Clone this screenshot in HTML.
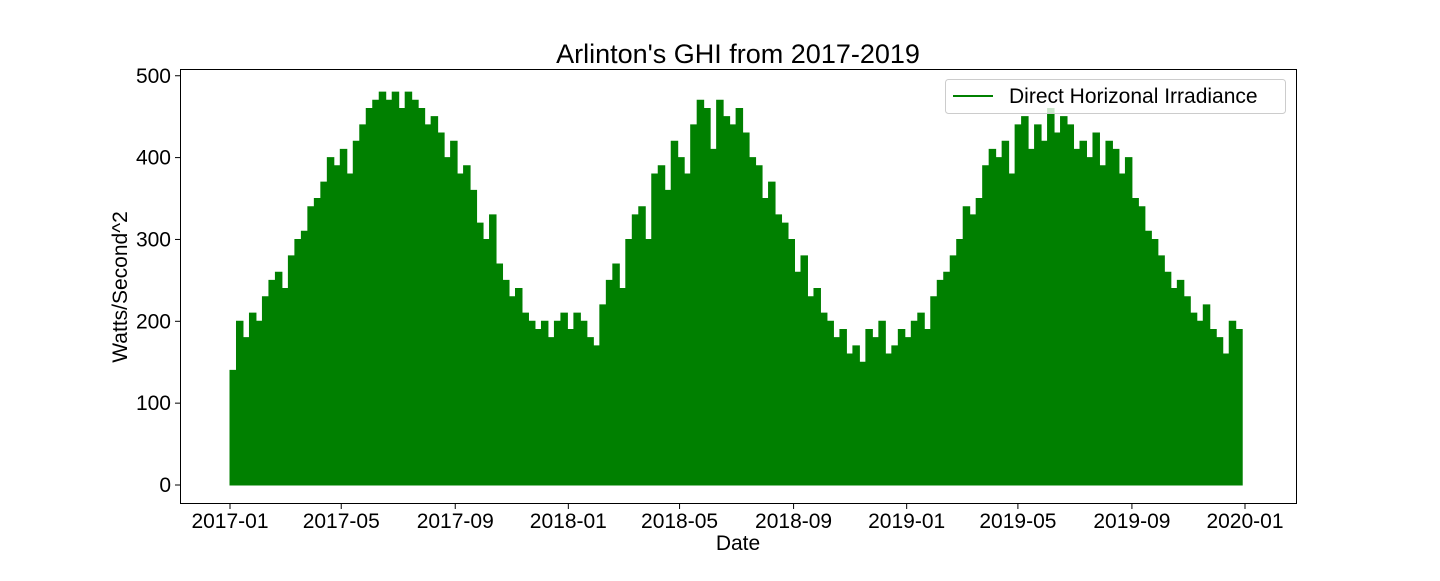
<!DOCTYPE html>
<html><head><meta charset="utf-8"><style>
body{margin:0;background:#fff;}
svg text{font-family:"Liberation Sans","DejaVu Sans",sans-serif;fill:#000;}
</style></head><body>
<svg id="chart" width="1440" height="576" xmlns="http://www.w3.org/2000/svg">
<rect x="0" y="0" width="1440" height="576" fill="#fff"/>
<text x="738" y="63" font-size="27" text-anchor="middle">Arlinton's GHI from 2017-2019</text>
<g id="marks"></g>
<rect x="180.5" y="69.5" width="1116" height="434" fill="none" stroke="#000" stroke-width="1"/>
<g id="yaxis"></g>
<g id="xaxis"></g>
<text transform="translate(127,287) rotate(-90)" font-size="21" text-anchor="middle">Watts/Second^2</text>
<text x="738" y="550" font-size="21" text-anchor="middle">Date</text>
<g>
<rect x="945.5" y="79.5" width="340" height="34" rx="3" fill="#fff" fill-opacity="0.8" stroke="#ccc"/>
<line x1="953" y1="96" x2="993" y2="96" stroke="#008000" stroke-width="2"/>
<text x="1009" y="103" font-size="21">Direct Horizonal Irradiance</text>
</g>
</svg>
<script>
const startDate = "2017-01-01";
const weeklyMax = [140,200,180,210,200,230,250,260,240,280,300,310,340,350,370,400,390,410,380,420,440,460,470,480,470,480,460,480,470,460,440,450,430,400,420,380,390,360,320,300,330,270,250,230,240,210,200,190,200,180,200,210,
190,210,200,180,170,220,250,270,240,300,330,340,300,380,390,360,420,400,380,440,470,460,410,470,450,440,460,430,400,390,350,370,330,320,300,260,280,230,240,210,200,180,190,160,170,150,190,180,200,160,170,190,
180,200,210,190,230,250,260,280,300,340,330,350,390,410,400,420,380,440,450,410,440,420,460,430,450,440,410,420,400,430,390,420,410,380,400,350,340,310,300,280,260,240,250,230,210,200,220,190,180,160,200,190];
const yTicks = [0,100,200,300,400,500];
const xTickLabels = ["2017-01","2017-05","2017-09","2018-01","2018-05","2018-09","2019-01","2019-05","2019-09","2020-01"];

const NS="http://www.w3.org/2000/svg";
const t0=Date.UTC(2017,0,1), t1=Date.UTC(2020,0,1);
const xScale=t=>230+(t-t0)/(t1-t0)*1015;
const yScale=v=>485-v*0.8185;
const DAY=86400000;
const marks=document.getElementById('marks');
let d="M"+xScale(t0)+","+yScale(0);
weeklyMax.forEach((v,i)=>{
  const a=t0+i*7*DAY, b=Math.min(t1,a+7*DAY);
  d+=" L"+xScale(a)+","+yScale(v)+" L"+xScale(b)+","+yScale(v);
});
d+=" L"+xScale(Math.min(t1,t0+weeklyMax.length*7*DAY))+","+yScale(0)+" Z";
const p=document.createElementNS(NS,'path');


p.setAttribute('d',d);p.setAttribute('fill','#008000');p.setAttribute('stroke','#008000');p.setAttribute('stroke-width','1');
marks.appendChild(p);

const ya=document.getElementById('yaxis');
yTicks.forEach(v=>{
  const y=yScale(v);
  const l=document.createElementNS(NS,'line');
  
  
  l.setAttribute('x1',175);l.setAttribute('x2',180);l.setAttribute('y1',y);l.setAttribute('y2',y);l.setAttribute('stroke','#000');
  ya.appendChild(l);
  const t=document.createElementNS(NS,'text');
  
  
  t.setAttribute('x',171);t.setAttribute('y',y+7);t.setAttribute('font-size','21');t.setAttribute('text-anchor','end');
  t.textContent=v;ya.appendChild(t);
});
const xa=document.getElementById('xaxis');
xTickLabels.forEach(s=>{
  const [yy,mm]=s.split('-').map(Number);
  const x=xScale(Date.UTC(yy,mm-1,1));
  const l=document.createElementNS(NS,'line');
  
  
  l.setAttribute('x1',x);l.setAttribute('x2',x);l.setAttribute('y1',504);l.setAttribute('y2',509);l.setAttribute('stroke','#000');
  xa.appendChild(l);
  const t=document.createElementNS(NS,'text');
  
  
  t.setAttribute('x',x);t.setAttribute('y',528);t.setAttribute('font-size','21');t.setAttribute('text-anchor','middle');
  t.textContent=s;xa.appendChild(t);
});
</script>
</body></html>
